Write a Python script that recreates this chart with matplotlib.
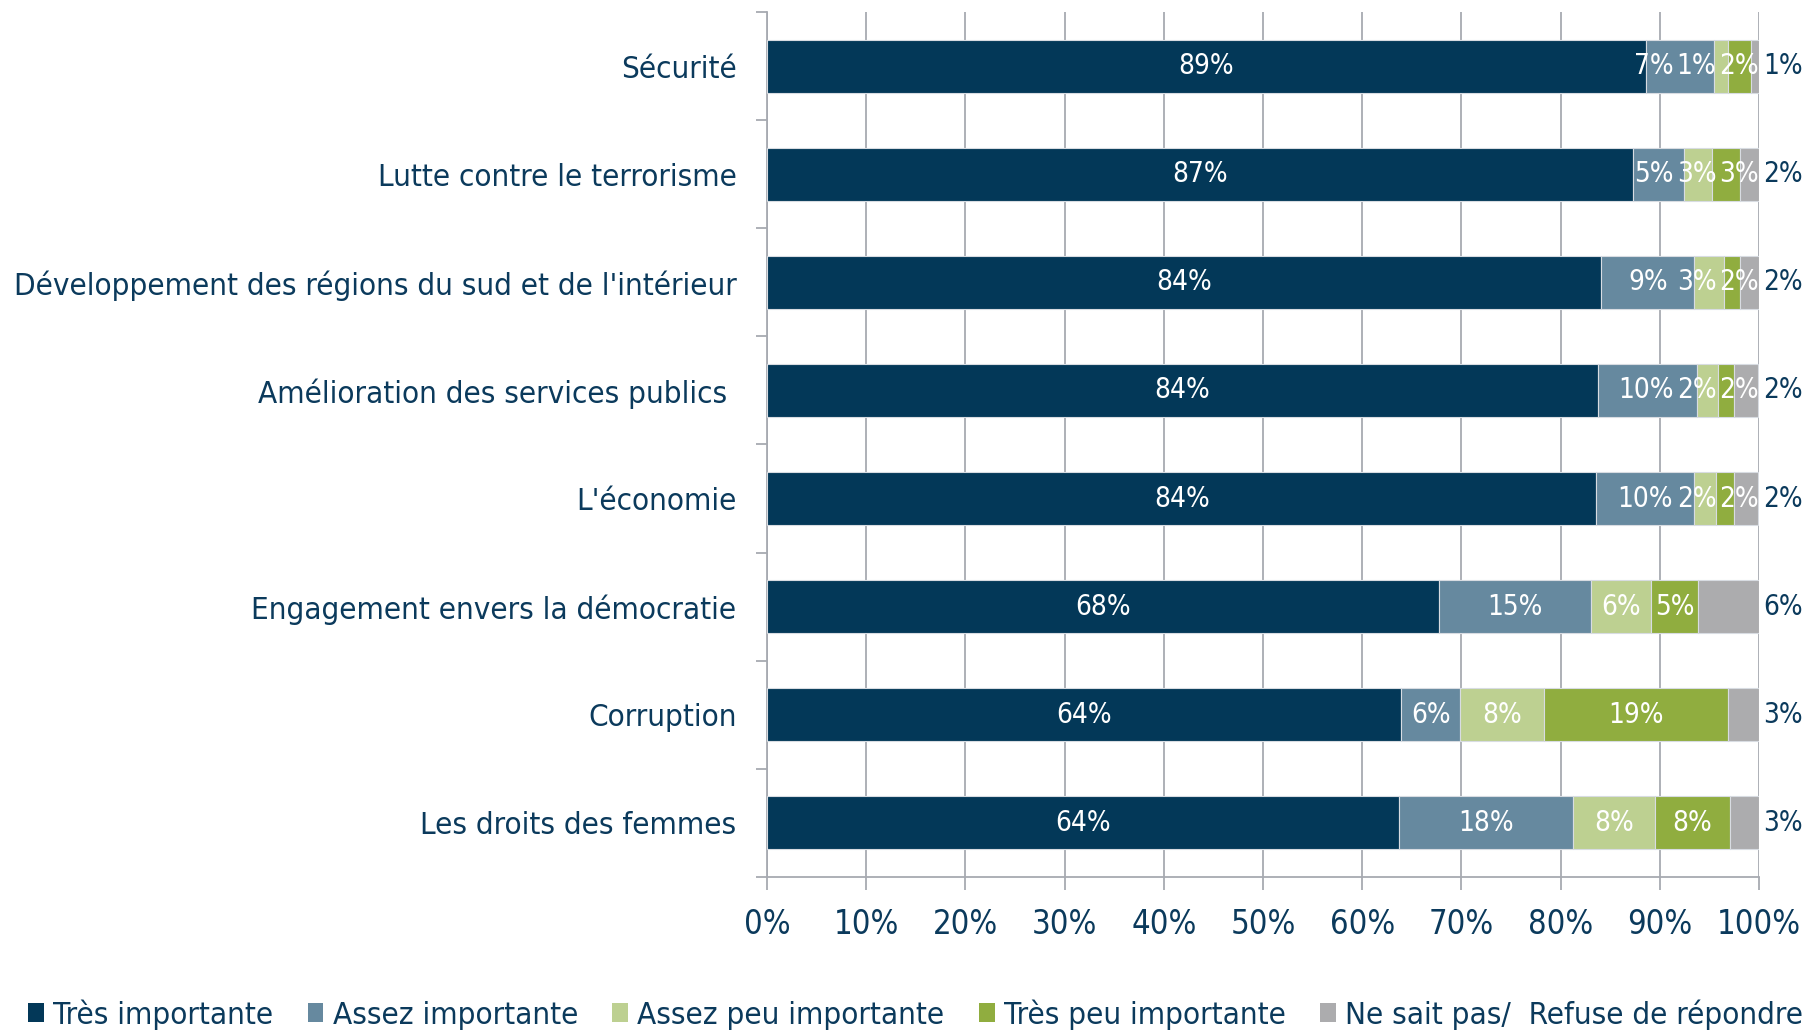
import numpy as np
import matplotlib
matplotlib.use("Agg")
import matplotlib.pyplot as plt

categories = ["Sécurité", "Lutte contre le terrorisme",
              "Développement des régions du sud et de l'intérieur",
              "Amélioration des services publics ", "L'économie",
              "Engagement envers la démocratie", "Corruption", "Les droits des femmes"]
series = ["Très importante", "Assez importante", "Assez peu importante",
          "Très peu importante", "Ne sait pas/  Refuse de répondre"]

tres_imp = [88.6, 87.3, 84.1, 83.8, 83.6, 67.7, 63.9, 63.7]
assez_imp = [6.9, 5.1, 9.4, 10.0, 9.9, 15.4, 6.0, 17.6]
assez_peu = [1.4, 2.9, 3.0, 2.1, 2.2, 6.0, 8.4, 8.2]
tres_peu = [2.3, 2.8, 1.6, 1.6, 1.8, 4.8, 18.6, 7.6]
nsp = [0.8, 1.9, 1.9, 2.4, 2.4, 6.1, 3.1, 2.9]

colors = ["#033858", "#66899F", "#BDD091", "#90AD3F", "#ACACAE"]
navy = "#0B3A5C"
grid_c = "#A7AAB1"

plt.rcParams["font.family"] = "DejaVu Sans"
plt.rcParams["font.stretch"] = "condensed"

fig = plt.figure(figsize=(18.18, 10.31), dpi=100)
ax = fig.add_axes([0.4219, 0.1494, 0.5456, 0.8390])

data = [tres_imp, assez_imp, assez_peu, tres_peu, nsp]
y = np.arange(len(categories))
left = np.zeros(len(categories))
inner = [[] for _ in categories]  # (text, segment centre) per row
for k, vals in enumerate(data):
    vals = np.array(vals)
    ax.barh(y, vals, left=left, height=0.49, color=colors[k],
            edgecolor="#D8DCE2", linewidth=0.8, label=series[k], zorder=3)
    for i, v in enumerate(vals):
        lab = "%d%%" % round(v)
        if k < 4:
            t = ax.text(left[i] + v / 2, y[i], lab, ha="center", va="center",
                        color="white", fontsize=20, zorder=4)
            inner[i].append((t, left[i] + v / 2))
        else:
            ax.text(100.4, y[i], lab, ha="left", va="center",
                    color=navy, fontsize=20, clip_on=False, zorder=4)
    left += vals

ax.set_xlim(0, 100)
ax.set_ylim(len(categories) - 0.5, -0.5)
ax.set_xticks(np.arange(0, 101, 10))
ax.set_xticklabels(["%d%%" % t for t in range(0, 101, 10)])
ax.set_yticks(y)
ax.set_yticklabels(categories)
ax.set_yticks(np.arange(-0.5, len(categories), 1), minor=True)

ax.grid(axis="x", color=grid_c, linewidth=1.3, zorder=0)
for s in ["top", "right"]:
    ax.spines[s].set_visible(False)
for s in ["left", "bottom"]:
    ax.spines[s].set_color(grid_c)
    ax.spines[s].set_linewidth(1.3)

ax.tick_params(axis="y", which="major", length=0, pad=22, labelsize=22.5, labelcolor=navy)
ax.tick_params(axis="y", which="minor", length=8, color=grid_c, width=1.3)
ax.tick_params(axis="x", length=9, color=grid_c, width=1.3, labelsize=23.5,
               labelcolor=navy, pad=13)

# push crowded inside labels apart, like the original chart does
fig.canvas.draw()
r = fig.canvas.get_renderer()
px = ax.transData.transform([(0, 0), (1, 0)])
per_unit = px[1, 0] - px[0, 0]
gap = 0.3
for row in inner:
    w = [t.get_window_extent(r).width / per_unit for t, c in row]
    pos = [c for t, c in row]
    for j in range(1, len(pos)):
        pos[j] = max(pos[j], pos[j - 1] + (w[j - 1] + w[j]) / 2 + gap)
    pos[-1] = min(pos[-1], 100 - w[-1] / 2)
    for j in range(len(pos) - 2, -1, -1):
        pos[j] = min(pos[j], pos[j + 1] - (w[j + 1] + w[j]) / 2 - gap)
    for (t, c), p in zip(row, pos):
        t.set_x(p)

leg = fig.legend(loc="center left", bbox_to_anchor=(0.0, 0.016), ncol=5,
                 frameon=False, fontsize=22.5, handlelength=0.5, handleheight=0.55,
                 handletextpad=0.3, columnspacing=1.1, labelcolor=navy)
for h in leg.legend_handles:
    h.set_edgecolor("none")

fig.savefig("out.png", dpi=100)
